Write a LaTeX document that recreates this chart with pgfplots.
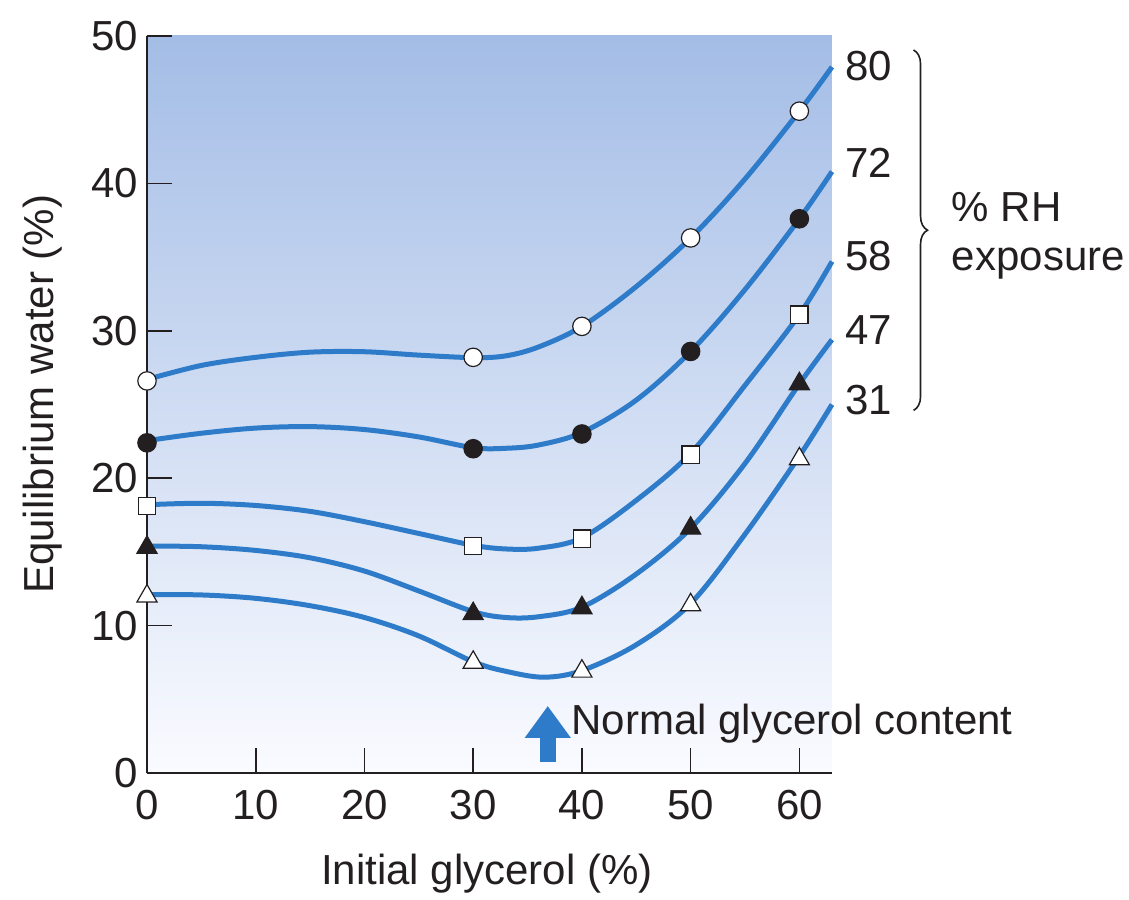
\documentclass[border=0pt]{standalone}
\usepackage{pgfplots}
\pgfplotsset{compat=1.18}
\usepackage{fontspec}
\setmainfont{Liberation Sans}
\usetikzlibrary{arrows.meta,decorations.pathreplacing}

\definecolor{curveblue}{RGB}{46,124,201}
\definecolor{bgtop}{RGB}{164,189,230}
\definecolor{bgbot}{RGB}{250,251,255}
\definecolor{ink}{RGB}{35,31,32}

\newcommand{\bigfont}{\fontsize{21}{25}\selectfont}

\begin{document}
\begin{tikzpicture}
\begin{axis}[
    scale only axis,
    width=342.5pt, height=368.5pt,
    xmin=0, xmax=63, ymin=0, ymax=50,
    clip=false,
    axis lines=left,
    axis line style={-, line width=1.3pt, ink},
    axis background/.style={shade, top color=bgtop, bottom color=bgbot},
    xtick={0,10,20,30,40,50,60},
    ytick={0,10,20,30,40,50},
    tick align=inside,
    major tick length=12.5pt,
    tick style={line width=0.8pt, ink},
    /pgf/number format/assume math mode=true,
    ticklabel style={font=\bigfont, text=ink},
    xticklabel style={yshift=-5pt},
    yticklabel style={xshift=-1pt},
    label style={font=\bigfont, text=ink},
    xlabel={Initial glycerol (\%)},
    ylabel={Equilibrium water (\%)},
    xlabel style={at={(axis description cs:0.496,-0.1506)}, anchor=base},
    ylabel style={at={(axis description cs:-0.153,0.514)}, anchor=center},
    every axis plot/.append style={line width=2.5pt, color=curveblue},
]

% curves
\addplot[smooth, tension=0.55] coordinates {
 (0,26.7) (5,27.65) (10,28.2) (15,28.55) (20,28.58) (25,28.35) (30,28.18)
 (33,28.3) (36,28.9) (40,30.3) (45,33.0) (50,36.3) (55,40.3) (60,44.9) (63,47.9)};
\addplot[smooth, tension=0.55] coordinates {
 (0,22.55) (5,23.05) (10,23.4) (15,23.5) (20,23.3) (25,22.8) (30,22.07)
 (33,22.03) (36,22.25) (40,23.1) (45,25.3) (50,28.6) (55,32.8) (60,37.6) (63,40.8)};
\addplot[smooth, tension=0.55] coordinates {
 (0,18.2) (5,18.3) (10,18.15) (15,17.75) (20,17.05) (25,16.25) (30,15.45)
 (33,15.2) (36,15.25) (40,15.96) (45,18.5) (50,21.69) (55,26.3) (60,31.1) (63,34.7)};
\addplot[smooth, tension=0.55] coordinates {
 (0,15.4) (5,15.35) (10,15.1) (15,14.6) (20,13.7) (25,12.35) (30,10.95)
 (33,10.55) (36,10.6) (40,11.25) (45,13.5) (50,16.6) (55,21.0) (60,26.4) (63,29.4)};
\addplot[smooth, tension=0.55] coordinates {
 (0,12.1) (5,12.08) (10,11.85) (15,11.35) (20,10.55) (25,9.3) (30,7.55)
 (33,6.9) (36.5,6.5) (40,6.95) (45,8.7) (50,11.5) (55,16.2) (60,21.5) (63,25.0)};

% measured points
\addplot[only marks, mark=*, mark size=4.6pt,
  mark options={fill=white, draw=ink, line width=0.6pt}] coordinates {
 (0,26.6) (30,28.2) (40,30.3) (50,36.3) (60,44.9)};
\addplot[only marks, mark=*, mark size=4.6pt,
  mark options={fill=ink, draw=ink, line width=0.6pt}] coordinates {
 (0,22.4) (30,22.0) (40,23.0) (50,28.6) (60,37.6)};
\addplot[only marks, mark=square*, mark size=4.3pt,
  mark options={fill=white, draw=ink, line width=0.6pt}] coordinates {
 (0,18.1) (30,15.4) (40,15.9) (50,21.6) (60,31.1)};
\addplot[only marks, mark=triangle*, mark size=5.8pt,
  mark options={fill=ink, draw=ink, line width=0.6pt}] coordinates {
 (0,15.3) (30,10.8) (40,11.2) (50,16.6) (60,26.4)};
\addplot[only marks, mark=triangle*, mark size=5.8pt,
  mark options={fill=white, draw=ink, line width=0.6pt}] coordinates {
 (0,12.0) (30,7.5) (40,6.9) (50,11.4) (60,21.3)};

% annotations
\draw[line width=8pt, curveblue, -{Triangle[width=22pt,length=16pt]}]
  (axis cs:36.86,0.75) -- (axis cs:36.86,4.55);
\node[anchor=base west, inner sep=0pt, font=\bigfont, text=ink]
  at (axis cs:39.0,2.58) {Normal glycerol content};

\node[anchor=west, inner sep=0pt, font=\bigfont, text=ink] at (axis cs:64.2,47.95) {80};
\node[anchor=west, inner sep=0pt, font=\bigfont, text=ink] at (axis cs:64.2,41.4) {72};
\node[anchor=west, inner sep=0pt, font=\bigfont, text=ink] at (axis cs:64.2,35.1) {58};
\node[anchor=west, inner sep=0pt, font=\bigfont, text=ink] at (axis cs:64.2,30.05) {47};
\node[anchor=west, inner sep=0pt, font=\bigfont, text=ink] at (axis cs:64.2,25.3) {31};

\draw[ink, line width=0.8pt, decorate, decoration={brace, amplitude=7pt}]
  (axis cs:70.5,49.05) -- (axis cs:70.5,24.6);
\node[anchor=base west, inner sep=0pt, font=\bigfont, text=ink]
  at (axis cs:74.0,37.4) {\% RH};
\node[anchor=base west, inner sep=0pt, font=\bigfont, text=ink]
  at (axis cs:74.0,34.1) {exposure};
\end{axis}
\path (current axis.south west) ++(-73.5pt,-60pt) rectangle ++(564.5pt,446.5pt);
\end{tikzpicture}
\end{document}
